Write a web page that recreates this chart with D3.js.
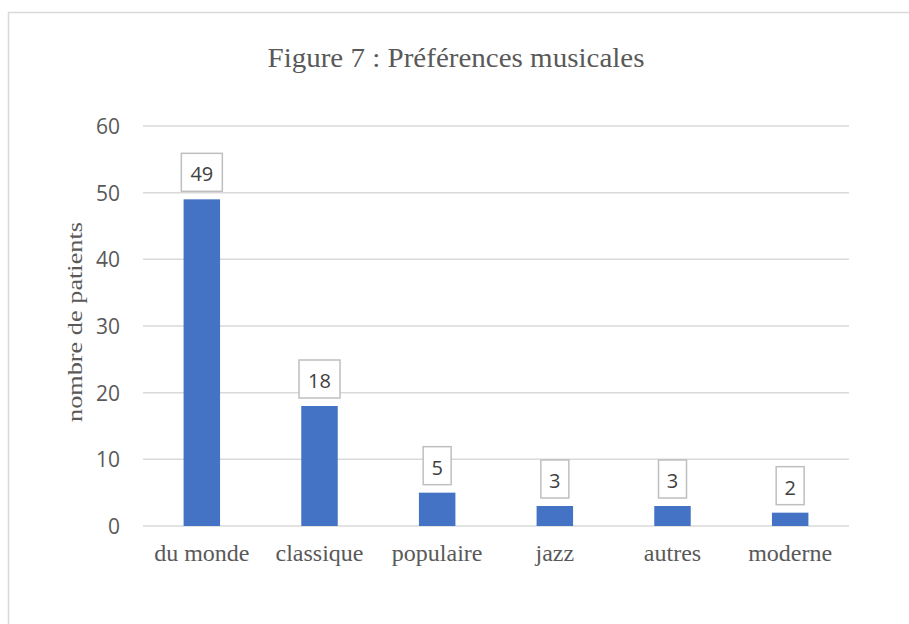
<!DOCTYPE html>
<html>
<head>
<meta charset="utf-8">
<script src="https://cdn.jsdelivr.net/npm/d3@7"></script>
<style>
  body { margin: 0; background: #fff; }
</style>
</head>
<body>
<div id="chart"></div>
<script>
// data
var categories = ["du monde", "classique", "populaire", "jazz", "autres", "moderne"];
var patients = [49, 18, 5, 3, 3, 2];
var yTicks = [0, 10, 20, 30, 40, 50, 60];

var W = 909, H = 624;
var margin = {top: 126, right: 60, bottom: 98, left: 143};
var width = W - margin.left - margin.right;   // 706
var height = H - margin.top - margin.bottom;  // 400

var svg = d3.select("#chart")
    .append("svg")
        .attr("width", W)
        .attr("height", H);

// outer frame of the chart
svg.append("rect")
    .attr("x", 8.5)
    .attr("y", 12.5)
    .attr("width", 910)
    .attr("height", 640)
    .style("fill", "none")
    .style("stroke", "#d9d9d9")
    .style("stroke-width", "1.5px");

var g = svg.append("g")
    .attr("transform", "translate(" + margin.left + "," + margin.top + ")");

var xScale = d3.scaleBand()
    .domain(categories)
    .range([0, width])
    .paddingInner(0.69)
    .paddingOuter(0.345);

var yScale = d3.scaleLinear()
    .domain([0, 60])
    .range([height, 0]);

// gridlines
g.append("g")
    .attr("class", "grid")
    .selectAll("line")
    .data(yTicks)
    .enter()
    .append("line")
    .attr("x1", 0)
    .attr("x2", width)
    .attr("y1", d => yScale(d))
    .attr("y2", d => yScale(d))
    .style("stroke", "#d9d9d9")
    .style("stroke-width", "1.5px");

// y axis (labels only)
var yAxis = g.append("g")
    .call(d3.axisLeft(yScale).tickValues(yTicks).tickSize(0).tickPadding(23));
yAxis.select(".domain").remove();
yAxis.selectAll("text")
    .attr("dy", "0.36em")
    .style("font-family", "'Open Sans', 'Liberation Sans', sans-serif")
    .style("font-size", "21px")
    .style("fill", "#595959");

// x axis (labels only)
var xAxis = g.append("g")
    .attr("transform", "translate(0," + height + ")")
    .call(d3.axisBottom(xScale).tickSize(0).tickPadding(0));
xAxis.select(".domain").remove();
xAxis.selectAll("text")
    .attr("y", 35)
    .attr("dy", 0)
    .style("font-family", "'Liberation Serif', 'Times New Roman', serif")
    .style("font-size", "24px")
    .style("fill", "#595959");

// bars
g.selectAll("rect.bar")
    .data(patients)
    .enter()
    .append("rect")
    .attr("class", "bar")
    .attr("x", (d, i) => xScale(categories[i]))
    .attr("y", d => yScale(d))
    .attr("width", xScale.bandwidth())
    .attr("height", d => height - yScale(d))
    .style("fill", "#4472c4");

// data labels in boxes
var labels = g.selectAll("g.label")
    .data(patients)
    .enter()
    .append("g")
    .attr("class", "label")
    .attr("transform", (d, i) => "translate(" + (xScale(categories[i]) + xScale.bandwidth() / 2) + "," + (yScale(d) - 8) + ")");

labels.append("rect")
    .attr("x", d => String(d).length > 1 ? -20.5 : -14)
    .attr("y", -38)
    .attr("width", d => String(d).length > 1 ? 41 : 28)
    .attr("height", 38)
    .style("fill", "#fff")
    .style("stroke", "#bfbfbf")
    .style("stroke-width", "1.5px");

labels.append("text")
    .attr("y", -10)
    .style("text-anchor", "middle")
    .style("font-family", "'Open Sans', 'Liberation Sans', sans-serif")
    .style("font-size", "20px")
    .style("fill", "#404040")
    .text(d => d);

// title
svg.append("text")
    .attr("x", 456)
    .attr("y", 67)
    .attr("textLength", 377)
    .attr("lengthAdjust", "spacingAndGlyphs")
    .style("text-anchor", "middle")
    .style("font-family", "'Liberation Serif', 'Times New Roman', serif")
    .style("font-size", "27px")
    .style("fill", "#595959")
    .text("Figure 7 : Préférences musicales");

// y axis title
svg.append("text")
    .attr("transform", "rotate(-90)")
    .attr("x", -322)
    .attr("y", 82)
    .attr("textLength", 200)
    .attr("lengthAdjust", "spacingAndGlyphs")
    .style("text-anchor", "middle")
    .style("font-family", "'Liberation Serif', 'Times New Roman', serif")
    .style("font-size", "22px")
    .style("fill", "#595959")
    .text("nombre de patients");
</script>
</body>
</html>
